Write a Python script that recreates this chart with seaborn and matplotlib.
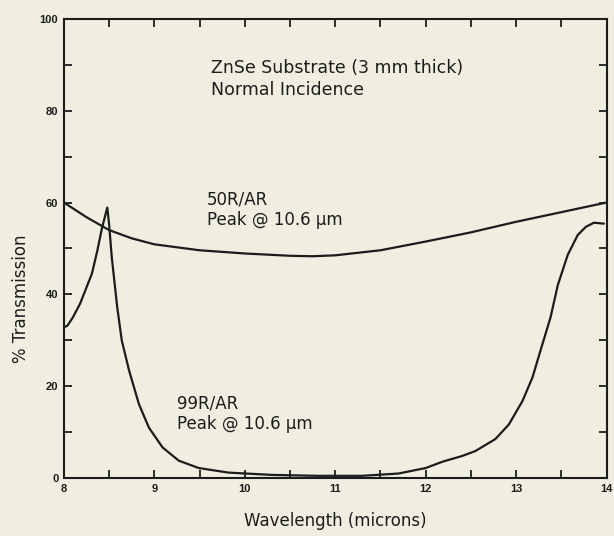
import matplotlib
matplotlib.use("Agg")
import matplotlib.pyplot as plt
from matplotlib.ticker import MultipleLocator, FuncFormatter
import pandas as pd
import seaborn as sns

# Transmission of two ZnSe partial reflectors (3 mm substrate, normal incidence)
wl_50r = [8.0, 8.25, 8.5, 8.75, 9.0, 9.5, 10.0, 10.5, 10.75, 11.0, 11.5,
          12.0, 12.5, 13.0, 13.5, 14.0]
t_50r = [60.0, 56.8, 54.0, 52.2, 50.9, 49.6, 48.9, 48.4, 48.3, 48.5, 49.6,
         51.5, 53.5, 55.8, 57.9, 60.0]

wl_99r = [8.0, 8.04, 8.1, 8.18, 8.31, 8.37, 8.42, 8.48, 8.5, 8.53, 8.59,
          8.64, 8.72, 8.83, 8.94, 9.09, 9.27, 9.49, 9.82, 10.3, 10.8,
          11.3, 11.7, 12.0, 12.19, 12.4, 12.55, 12.77, 12.92, 13.07, 13.18,
          13.28, 13.38, 13.46, 13.57, 13.68, 13.77, 13.86, 13.97]
t_99r = [32.8, 33.2, 35.0, 38.0, 44.5, 49.5, 54.3, 58.9, 55.3, 48.0, 37.2,
         30.0, 23.5, 16.1, 11.0, 6.7, 3.8, 2.2, 1.2, 0.7, 0.5,
         0.5, 1.0, 2.2, 3.6, 4.8, 5.9, 8.5, 11.7, 16.8, 21.9,
         28.5, 35.0, 42.0, 48.6, 52.9, 54.7, 55.6, 55.4]

x_ticks = [8, 9, 10, 11, 12, 13, 14]
y_labels = [0, 20, 40, 60, 80, 100]

df = pd.concat([
    pd.DataFrame({"wavelength": wl_50r, "transmission": t_50r, "coating": "50R/AR"}),
    pd.DataFrame({"wavelength": wl_99r, "transmission": t_99r, "coating": "99R/AR"}),
], ignore_index=True)

sns.set_theme(style="ticks")
plt.rcParams["font.family"] = ["DejaVu Sans"]

paper = "#f0eee0"
ink = "#1c1c1c"

fig = plt.figure(figsize=(6.14, 5.36), dpi=100, facecolor=paper)
ax = fig.add_axes([0.104, 0.108, 0.884, 0.857])
ax.set_facecolor(paper)

sns.lineplot(data=df, x="wavelength", y="transmission", hue="coating",
             palette=[ink, ink], estimator=None, sort=False, legend=False,
             linewidth=1.6, ax=ax)

ax.set_xlim(8, 14)
ax.set_ylim(0, 100)
ax.xaxis.set_major_locator(MultipleLocator(0.5))
ax.yaxis.set_major_locator(MultipleLocator(10))
ax.xaxis.set_major_formatter(FuncFormatter(
    lambda v, p: f"{int(round(v))}" if abs(v - round(v)) < 1e-6 and int(round(v)) in x_ticks else ""))
ax.yaxis.set_major_formatter(FuncFormatter(
    lambda v, p: f"{int(round(v))}" if abs(v - round(v)) < 1e-6 and int(round(v)) in y_labels else ""))

ax.tick_params(axis="both", which="major", direction="in", length=6, width=1.3,
               color=ink, top=True, right=True, labelsize=8, pad=4)
for lab in ax.get_xticklabels() + ax.get_yticklabels():
    lab.set_fontweight("bold")
    lab.set_color(ink)
    lab.set_family(["Liberation Sans", "DejaVu Sans"])
for sp in ax.spines.values():
    sp.set_visible(True)
    sp.set_color(ink)
    sp.set_linewidth(1.5)

ax.set_xlabel("Wavelength (microns)", fontsize=12, color=ink, labelpad=13)
ax.set_ylabel("% Transmission", fontsize=12, color=ink)
ax.yaxis.set_label_coords(-0.062, 0.39)

ax.text(9.63, 91.3, "ZnSe Substrate (3 mm thick)\nNormal Incidence",
        fontsize=12.5, color=ink, va="top", linespacing=1.3)
ax.text(9.58, 62.6, "50R/AR\nPeak @ 10.6 µm",
        fontsize=12, color=ink, va="top", linespacing=1.2)
ax.text(9.25, 18.2, "99R/AR\nPeak @ 10.6 µm",
        fontsize=12, color=ink, va="top", linespacing=1.2)

fig.savefig("out.png", dpi=100, facecolor=paper)
